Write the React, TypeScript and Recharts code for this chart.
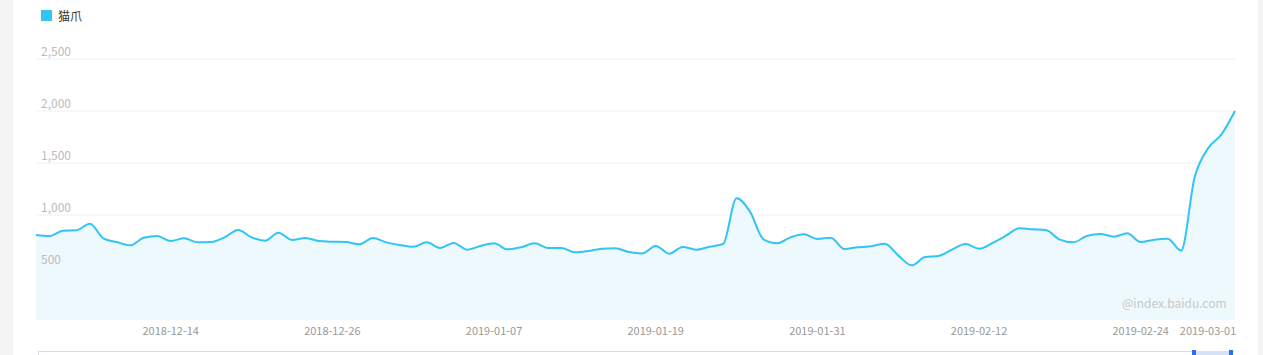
import React from "react";
import { AreaChart, Area, XAxis, YAxis, CartesianGrid } from "recharts";

// daily dates 2018-12-04 .. 2019-03-03
const buildDates = () => {
  const out: string[] = [];
  const d = new Date(Date.UTC(2018, 11, 4));
  for (let i = 0; i < 90; i++) {
    out.push(d.toISOString().slice(0, 10));
    d.setUTCDate(d.getUTCDate() + 1);
  }
  return out;
};
const dates = buildDates();

const maozhua = [
  808, 798, 849, 853, 917, 776, 740, 708, 782, 798,
  750, 776, 737, 740, 785, 856, 785, 753, 830, 760,
  779, 750, 743, 740, 718, 779, 737, 711, 694, 737,
  683, 731, 667, 702, 728, 670, 689, 728, 683, 683,
  641, 654, 676, 680, 644, 631, 702, 628, 692, 667,
  695, 721, 1160, 1032, 766, 728, 785, 814, 769, 782,
  673, 689, 699, 724, 612, 516, 596, 606, 667, 721,
  676, 731, 801, 872, 862, 853, 763, 737, 798, 817,
  792, 824, 740, 763, 772, 657, 1360, 1641, 1776, 2000,
];

const xTicks = [
  "2018-12-14",
  "2018-12-26",
  "2019-01-07",
  "2019-01-19",
  "2019-01-31",
  "2019-02-12",
  "2019-02-24",
  "2019-03-01",
];
const yTicks = [0, 500, 1000, 1500, 2000, 2500];

const data = dates.map((date, i) => ({ date, value: maozhua[i] }));

const LINE = "#31c4f5";
const FONT = '"Microsoft YaHei", "Noto Sans CJK SC", "Noto Sans", sans-serif';

const renderYTick = (props: any) => {
  const { y, payload } = props;
  if (payload.value === 0) return <g />;
  return (
    <text x={41} y={y - 3} fill="#bcbcbc" fontSize={12} fontFamily={FONT} textAnchor="start">
      {Number(payload.value).toLocaleString("en-US")}
    </text>
  );
};

export default function App() {
  return (
    <div
      style={{
        position: "absolute",
        top: 0,
        left: 0,
        width: 1263,
        height: 355,
        background: "#f4f4f4",
        overflow: "hidden",
      }}
    >
      <div style={{ position: "absolute", left: 13, top: 0, width: 1245, height: 355, background: "#fff" }} />
      <div
        style={{
          position: "absolute",
          left: 41,
          top: 7,
          display: "flex",
          alignItems: "center",
          fontFamily: FONT,
          fontSize: 12,
          color: "#333",
        }}
      >
        <span style={{ width: 11, height: 11, background: LINE, display: "inline-block", marginRight: 6 }} />
        猫爪
      </div>
      <div style={{ position: "absolute", left: 0, top: 0 }}>
        <AreaChart
          width={1263}
          height={355}
          data={data}
          margin={{ top: 59, right: 28, bottom: 0, left: 35 }}
        >
          <CartesianGrid vertical={false} stroke="#f0f0f0" />
          <XAxis
            dataKey="date"
            ticks={xTicks}
            interval={0}
            axisLine={false}
            tickLine={false}
            tickSize={0}
            tickMargin={8}
            height={36}
            tick={{ fill: "#999", fontSize: 11, fontFamily: FONT }}
          />
          <YAxis
            width={1}
            domain={[0, 2500]}
            ticks={yTicks}
            interval={0}
            axisLine={false}
            tickLine={false}
            tick={renderYTick}
          />
          <Area
            type="monotone"
            dataKey="value"
            name="猫爪"
            stroke={LINE}
            strokeWidth={2}
            fill="#eef9fe"
            fillOpacity={1}
            dot={false}
            activeDot={false}
            isAnimationActive={false}
          />
        </AreaChart>
      </div>
      <div
        style={{
          position: "absolute",
          left: 1122,
          top: 294,
          fontFamily: FONT,
          fontSize: 12,
          color: "#c8c8c8",
        }}
      >
        @index.baidu.com
      </div>
      <div
        style={{
          position: "absolute",
          left: 38,
          top: 351,
          width: 1195,
          height: 6,
          borderTop: "1px solid #d9dfe8",
          borderLeft: "1px solid #d9dfe8",
          background: "#fff",
        }}
      />
      <div style={{ position: "absolute", left: 1193, top: 351, width: 40, height: 6, background: "#d6e2f5" }} />
      <div style={{ position: "absolute", left: 1192, top: 350, width: 4, height: 6, background: "#2d6ff0" }} />
      <div style={{ position: "absolute", left: 1229, top: 350, width: 4, height: 6, background: "#2d6ff0" }} />
    </div>
  );
}
